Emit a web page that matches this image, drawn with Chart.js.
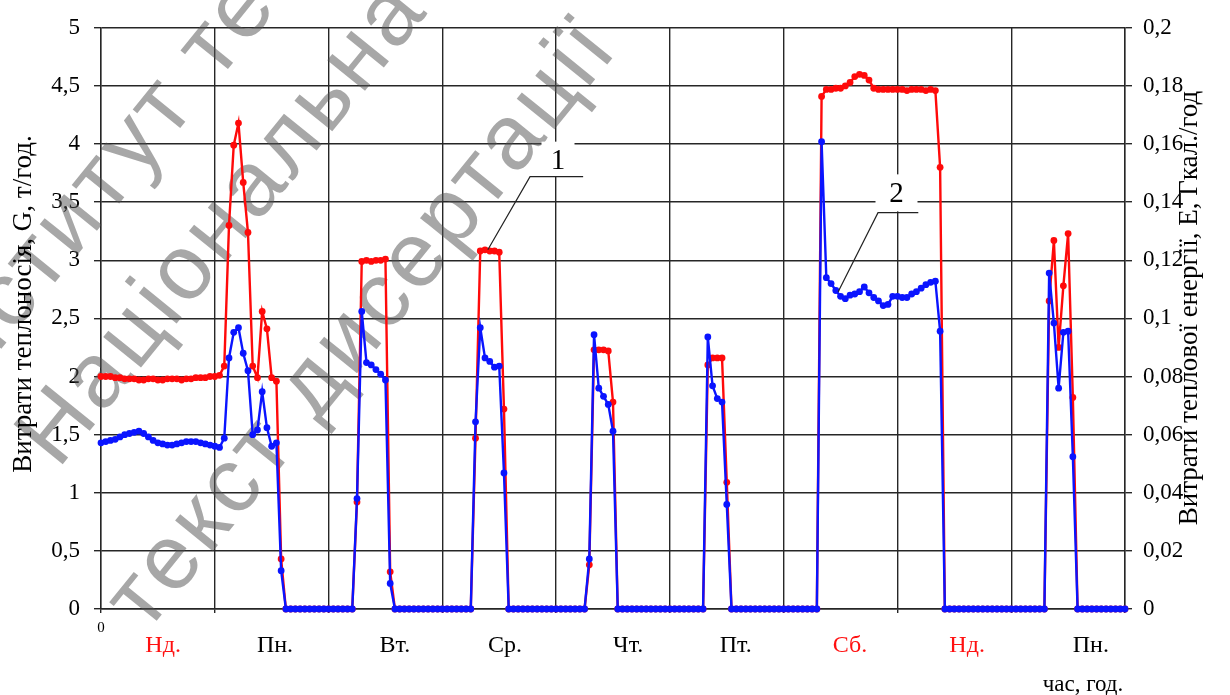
<!DOCTYPE html>
<html>
<head>
<meta charset="utf-8">
<script src="https://cdn.jsdelivr.net/npm/chart.js@4.4.0/dist/chart.umd.min.js"></script>
<style>
html,body{margin:0;padding:0;background:#ffffff;}
canvas{display:block;}
</style>
</head>
<body>
<canvas id="c" width="1230" height="695"></canvas>
<script>
// ---- x categories: hours (0 … 216) ----
const hours = [0,1,2,3,4,5,6,7,8,9,10,11,12,13,14,15,16,17,18,19,20,21,22,23,
24,25,26,27,28,29,30,31,32,33,34,35,36,37,38,39,40,41,42,43,44,45,46,47,
48,49,50,51,52,53,54,55,56,57,58,59,60,61,62,63,64,65,66,67,68,69,70,71,
72,73,74,75,76,77,78,79,80,81,82,83,84,85,86,87,88,89,90,91,92,93,94,95,
96,97,98,99,100,101,102,103,104,105,106,107,108,109,110,111,112,113,114,115,116,117,118,119,
120,121,122,123,124,125,126,127,128,129,130,131,132,133,134,135,136,137,138,139,140,141,142,143,
144,145,146,147,148,149,150,151,152,153,154,155,156,157,158,159,160,161,162,163,164,165,166,167,
168,169,170,171,172,173,174,175,176,177,178,179,180,181,182,183,184,185,186,187,188,189,190,191,
192,193,194,195,196,197,198,199,200,201,202,203,204,205,206,207,208,209,210,211,212,213,214,215,216];

// ---- series 1: G, t/h (left axis), one array per day ----
const gSun1 = [2.00,2.00,2.00,1.99,1.99,1.98,1.98,1.98,1.97,1.97,1.98,1.98,1.97,1.97,1.98,1.98,1.98,1.97,1.98,1.98,1.99,1.99,1.99,2.00];
const gMon1 = [2.00,2.01,2.09,3.30,3.99,4.18,3.67,3.24,2.09,1.99,2.56,2.41,1.99,1.96,0.43,0,0,0,0,0,0,0,0,0];
const gTue  = [0,0,0,0,0,0,0.92,2.99,3.00,2.99,3.00,3.00,3.01,0.32,0,0,0,0,0,0,0,0,0,0];
const gWed  = [0,0,0,0,0,0,0,1.47,3.08,3.09,3.08,3.08,3.07,1.72,0,0,0,0,0,0,0,0,0,0];
const gThu  = [0,0,0,0,0,0,0,0.38,2.23,2.23,2.23,2.22,1.78,0,0,0,0,0,0,0,0,0,0,0];
const gFri  = [0,0,0,0,0,0,0,0,2.10,2.16,2.16,2.16,1.09,0,0,0,0,0,0,0,0,0,0,0];
const gSat  = [0,0,0,0,0,0,0,0,4.41,4.47,4.47,4.48,4.48,4.50,4.53,4.58,4.60,4.59,4.55,4.48,4.47,4.47,4.47,4.47];
const gSun2 = [4.47,4.47,4.46,4.47,4.47,4.47,4.46,4.47,4.46,3.80,0,0,0,0,0,0,0,0,0,0,0,0,0,0];
const gMon2 = [0,0,0,0,0,0,0,0,2.65,3.17,2.25,2.78,3.23,1.82,0,0,0,0,0,0,0,0,0,0,0];

// ---- series 2: E, Gcal/h (right axis), one array per day ----
const eSun1 = [0.0572,0.0576,0.0580,0.0584,0.0592,0.0600,0.0604,0.0608,0.0612,0.0604,0.0592,0.0580,0.0572,0.0568,0.0564,0.0564,0.0568,0.0572,0.0576,0.0576,0.0576,0.0572,0.0568,0.0564];
const eMon1 = [0.0560,0.0556,0.0588,0.0864,0.0952,0.0968,0.0880,0.0820,0.0600,0.0616,0.0748,0.0624,0.0560,0.0572,0.0132,0,0,0,0,0,0,0,0,0];
const eTue  = [0,0,0,0,0,0,0.0380,0.1024,0.0848,0.0840,0.0824,0.0808,0.0788,0.0088,0,0,0,0,0,0,0,0,0,0];
const eWed  = [0,0,0,0,0,0,0,0.0644,0.0968,0.0864,0.0852,0.0832,0.0836,0.0468,0,0,0,0,0,0,0,0,0,0];
const eThu  = [0,0,0,0,0,0,0,0.0172,0.0944,0.0760,0.0732,0.0704,0.0612,0,0,0,0,0,0,0,0,0,0,0];
const eFri  = [0,0,0,0,0,0,0,0,0.0936,0.0768,0.0724,0.0712,0.0360,0,0,0,0,0,0,0,0,0,0,0];
const eSat  = [0,0,0,0,0,0,0,0,0.1608,0.1140,0.1120,0.1096,0.1076,0.1068,0.1080,0.1084,0.1092,0.1108,0.1088,0.1072,0.1060,0.1044,0.1048,0.1076];
const eSun2 = [0.1076,0.1072,0.1072,0.1084,0.1092,0.1104,0.1116,0.1124,0.1128,0.0956,0,0,0,0,0,0,0,0,0,0,0,0,0,0];
const eMon2 = [0,0,0,0,0,0,0,0,0.1156,0.0984,0.0760,0.0952,0.0956,0.0524,0,0,0,0,0,0,0,0,0,0,0];

const seriesG = [].concat(gSun1, gMon1, gTue, gWed, gThu, gFri, gSat, gSun2, gMon2);
const seriesE = [].concat(eSun1, eMon1, eTue, eWed, eThu, eFri, eSat, eSun2, eMon2);

// ---- texts ----
const dayNames   = ['Нд.','Пн.','Вт.','Ср.','Чт.','Пт.','Сб.','Нд.','Пн.'];
const dayWeekend = [true,false,false,false,false,false,true,true,false];
const dayLabelAt = [13.1, 36.7, 62.0, 85.2, 111.2, 133.9, 158.0, 182.7, 208.8];
const titleLeft  = 'Витрати теплоносія, G, т/год.';
const titleRight = 'Витрати теплової енергії, Е, Гкал./год';
const titleX     = 'час, год.';
const watermark  = ['Інститут те', 'Національна', 'текст дисертації'];

const SERIF = '"Liberation Serif", "Times New Roman", serif';
const SANS  = '"Liberation Sans", Arial, sans-serif';
const GRID  = '#262626';

const fmt = v => Number(v.toFixed(2)).toString().replace('.', ',');

const overlay = {
  id: 'overlay',
  beforeDatasetsDraw(chart) {
    const ctx = chart.ctx;
    const pos = [[-40, 400], [58, 470], [146, 634]];
    ctx.save();
    ctx.fillStyle = 'rgba(80,80,80,0.5)';
    ctx.font = `92px ${SANS}`;
    if ('letterSpacing' in ctx) ctx.letterSpacing = '4px';
    ctx.textAlign = 'left';
    ctx.textBaseline = 'alphabetic';
    watermark.forEach((t, i) => {
      ctx.save();
      ctx.translate(pos[i][0], pos[i][1]);
      ctx.rotate(-51 * Math.PI / 180);
      ctx.fillText(t, 0, 0);
      ctx.restore();
    });
    ctx.restore();
  },
  afterDraw(chart) {
    const {ctx, scales: {x, y}} = chart;
    ctx.save();
    // day names
    ctx.font = `24px ${SERIF}`;
    ctx.textAlign = 'center';
    ctx.textBaseline = 'middle';
    dayNames.forEach((t, i) => {
      ctx.fillStyle = dayWeekend[i] ? '#ff1010' : '#000000';
      ctx.fillText(t, x.getPixelForValue(dayLabelAt[i]), 646);
    });
    // zero of time axis
    ctx.fillStyle = '#000';
    ctx.font = `15px ${SERIF}`;
    ctx.fillText('0', x.getPixelForValue(0), 628);
    // x title
    ctx.font = `23px ${SERIF}`;
    ctx.fillText(titleX, 1083, 685);
    // axis titles (both read bottom-to-top)
    ctx.font = `27px ${SERIF}`;
    [[titleLeft, 24, 304], [titleRight, 1190, 308]].forEach(([t, tx, ty]) => {
      ctx.save();
      ctx.translate(tx, ty);
      ctx.rotate(-Math.PI / 2);
      ctx.fillText(t, 0, 0);
      ctx.restore();
    });
    // curve markers "1" and "2" with leader lines
    const marks = [
      {t: '1', at: [96.4, 3.87], box: [33, 35], lead: [[81.6, 3.09], [90.5, 3.72], [101.7, 3.72]]},
      {t: '2', at: [167.8, 3.58], box: [42, 37], lead: [[155.5, 2.73], [163.9, 3.41], [172.4, 3.41]]}
    ];
    marks.forEach(m => {
      const cx = x.getPixelForValue(m.at[0]);
      const cy = y.getPixelForValue(m.at[1]);
      ctx.fillStyle = '#ffffff';
      ctx.fillRect(cx - m.box[0] / 2, cy - m.box[1] / 2, m.box[0], m.box[1]);
      ctx.strokeStyle = '#222';
      ctx.lineWidth = 1.2;
      ctx.beginPath();
      m.lead.forEach(([h, v], k) => {
        const px = x.getPixelForValue(h), py = y.getPixelForValue(v);
        if (k === 0) ctx.moveTo(px, py); else ctx.lineTo(px, py);
      });
      ctx.stroke();
      ctx.fillStyle = '#000';
      ctx.font = `29px ${SERIF}`;
      ctx.fillText(m.t, cx, cy + 2);
    });
    ctx.restore();
  }
};

new Chart(document.getElementById('c'), {
  type: 'line',
  data: {
    labels: hours,
    datasets: [
      {
        label: 'E', data: seriesE, yAxisID: 'y1',
        borderColor: '#0a14ff', backgroundColor: '#0a14ff',
        borderWidth: 2.4, pointRadius: 3.4, pointBorderWidth: 0,
        pointHoverRadius: 3.4, tension: 0, clip: false
      },
      {
        label: 'G', data: seriesG, yAxisID: 'y',
        borderColor: '#ff0a0a', backgroundColor: '#ff0a0a',
        borderWidth: 2.4, pointRadius: 3.4, pointBorderWidth: 0,
        pointHoverRadius: 3.4, tension: 0, clip: false
      }
    ]
  },
  options: {
    responsive: false,
    animation: false,
    events: [],
    layout: {padding: {top: 24, left: 0, right: 0, bottom: 0}},
    plugins: {legend: {display: false}, tooltip: {enabled: false}},
    scales: {
      x: {
        type: 'linear', min: 0, max: 216,
        ticks: {stepSize: 24, display: false},
        grid: {color: GRID, lineWidth: 1.4, tickLength: 4, drawTicks: true},
        border: {display: true, color: GRID, width: 1.4},
        afterFit: s => { s.height = 86; }
      },
      y: {
        position: 'left', min: 0, max: 5,
        ticks: {stepSize: 0.5, callback: fmt, color: '#000', padding: 14,
                font: {family: SERIF, size: 23}},
        grid: {color: GRID, lineWidth: 1.4, tickLength: 7},
        border: {display: true, color: GRID, width: 1.4},
        afterFit: s => { s.width = 101; }
      },
      y1: {
        position: 'right', min: 0, max: 0.2,
        ticks: {stepSize: 0.02, callback: fmt, color: '#000', padding: 11,
                font: {family: SERIF, size: 23}},
        grid: {drawOnChartArea: false, color: GRID, lineWidth: 1.4, tickLength: 7},
        border: {display: true, color: GRID, width: 1.4},
        afterFit: s => { s.width = 105; }
      }
    }
  },
  plugins: [overlay]
});
</script>
</body>
</html>
